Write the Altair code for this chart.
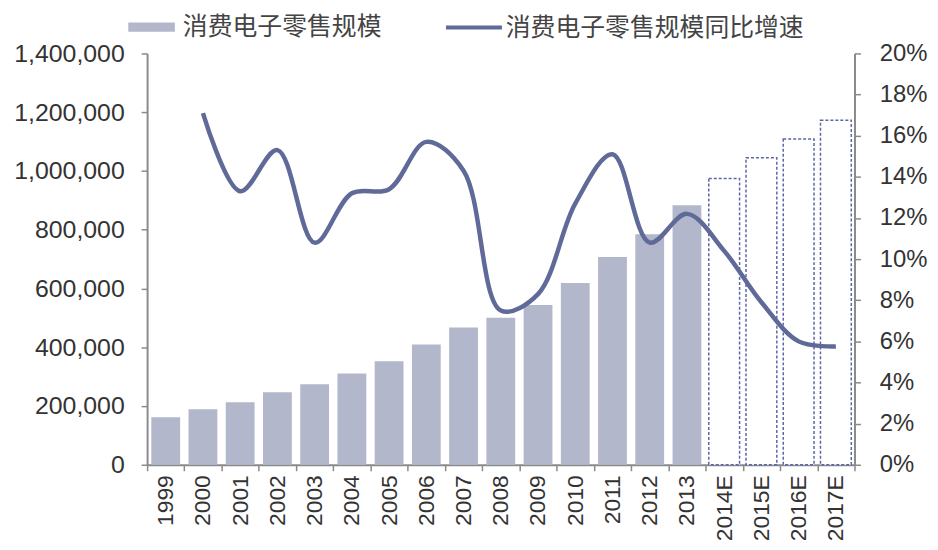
import altair as alt
import pandas as pd

years = ["1999", "2000", "2001", "2002", "2003", "2004", "2005", "2006", "2007",
         "2008", "2009", "2010", "2011", "2012", "2013", "2014E", "2015E", "2016E", "2017E"]
sales = [162000, 189000, 213000, 247000, 274000, 311000, 352000, 409000, 467000,
         500000, 544000, 619000, 707000, 785000, 883000, 974000, 1045000, 1109000, 1173000]
growth = [None, 0.171, 0.133, 0.153, 0.108, 0.132, 0.134, 0.157, 0.143,
          0.075, 0.083, 0.127, 0.151, 0.108, 0.122, 0.104, 0.079, 0.060, 0.0575]
kind = ["actual"] * 15 + ["forecast"] * 4

left_ticks = [0, 200000, 400000, 600000, 800000, 1000000, 1200000, 1400000]
right_ticks = [0, 0.02, 0.04, 0.06, 0.08, 0.1, 0.12, 0.14, 0.16, 0.18, 0.2]

BAR_NAME = "消费电子零售规模"
LINE_NAME = "消费电子零售规模同比增速"

df = pd.DataFrame({"year": years, "sales": sales, "growth": growth, "kind": kind})
df["bar_series"] = BAR_NAME
df["line_series"] = LINE_NAME

FONT = "Liberation Sans, Arial, Noto Sans CJK SC"
CJK = "Noto Sans CJK SC, Liberation Sans"
AXIS_COLOR = "#8a8a8a"
LABEL_COLOR = "#333333"

xenc = alt.X("year:N", sort=years, title=None,
             scale=alt.Scale(paddingInner=0, paddingOuter=0),
             axis=alt.Axis(labelAngle=-90, labelFontSize=23, labelFont=FONT,
                           labelColor=LABEL_COLOR, domainColor=AXIS_COLOR, domainWidth=2,
                           tickColor=AXIS_COLOR, tickWidth=1.5, tickSize=6,
                           tickBand="extent", labelPadding=4))

yscale = alt.Scale(domain=[0, 1400000])

base = alt.Chart(df)

bars = base.transform_filter(alt.datum.kind == "actual").mark_bar(size=29).encode(
    x=xenc,
    y=alt.Y("sales:Q", scale=yscale, title=None,
            axis=alt.Axis(values=left_ticks, format=",d", labelFontSize=25, labelFont=FONT,
                          labelColor=LABEL_COLOR, domainColor=AXIS_COLOR, domainWidth=2,
                          tickColor=AXIS_COLOR, tickWidth=1.5, tickSize=6, grid=False,
                          labelPadding=17)),
    color=alt.Color("bar_series:N", title=None,
                    scale=alt.Scale(domain=[BAR_NAME], range=["#b3b7cb"]),
                    legend=alt.Legend(orient="none", legendX=-8, legendY=-39,
                                      symbolType="M-2,-0.4H2V0.4H-2Z", symbolSize=550,
                                      symbolStrokeWidth=0, labelFontSize=25, labelFont=CJK,
                                      labelColor="#444444", labelOffset=19, labelLimit=400)),
)

fbars = base.transform_filter(alt.datum.kind == "forecast").mark_bar(
    size=31, fill="white", stroke="#5b67a6", strokeWidth=1.5, strokeDash=[3, 2]
).encode(
    x=xenc,
    y=alt.Y("sales:Q", scale=yscale, axis=None),
)

line = base.transform_filter("isValid(datum.growth)").mark_line(
    interpolate="catmull-rom", strokeWidth=4.5
).encode(
    x=xenc,
    y=alt.Y("growth:Q", title=None, scale=alt.Scale(domain=[0, 0.2]),
            axis=alt.Axis(orient="right", values=right_ticks, format=".0%", labelFontSize=24,
                          labelFont=FONT, labelColor=LABEL_COLOR, domainColor=AXIS_COLOR,
                          domainWidth=2, tickColor=AXIS_COLOR, tickWidth=1.5, tickSize=6,
                          grid=False, labelPadding=19)),
    stroke=alt.Stroke("line_series:N", title=None,
                      scale=alt.Scale(domain=[LINE_NAME], range=["#5f6a98"]),
                      legend=alt.Legend(orient="none", legendX=315, legendY=-40,
                                        symbolType="M-2.4,0H2.4", symbolSize=550,
                                        symbolStrokeWidth=4, symbolFillColor="transparent",
                                        labelFontSize=25, labelFont=CJK,
                                        labelColor="#444444", labelOffset=18, labelLimit=500)),
)

chart = alt.layer(bars, fbars, line).resolve_scale(
    y="independent", color="independent", stroke="independent"
).properties(
    width=712, height=414,
    autosize=alt.AutoSizeParams(type="none"),
    padding={"left": 140, "top": 44, "right": 76, "bottom": 76},
    background="white",
).configure_view(stroke=None)

chart.save("out.html", embed_options={"renderer": "svg", "actions": False})
